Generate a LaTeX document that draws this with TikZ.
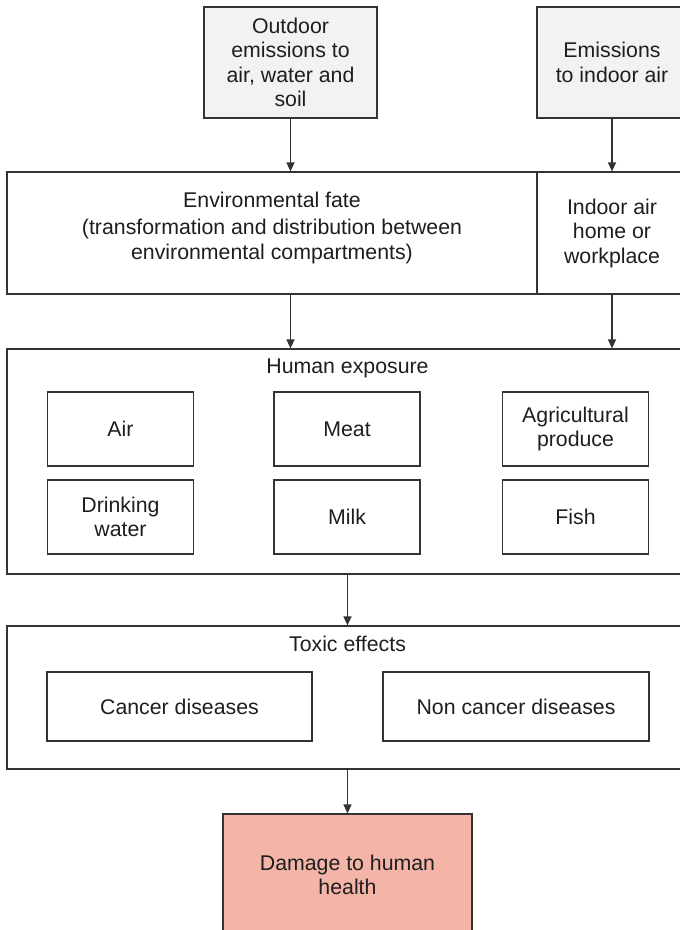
\documentclass[tikz,border=0pt]{standalone}
\usepackage{fontspec}
\setmainfont{Liberation Sans}
\usetikzlibrary{arrows.meta}
\definecolor{linec}{HTML}{333333}
\definecolor{txtc}{HTML}{1E1E1E}
\definecolor{grayfill}{HTML}{F2F2F2}
\definecolor{salmon}{HTML}{F4B4A7}
\tikzset{
  boxs/.style={draw=linec, line width=1.2pt, inner sep=0pt, align=center, text=txtc,
    font=\fontsize{21.3}{24.5}\selectfont},
  txts/.style={inner sep=0pt, align=center, text=txtc, font=\fontsize{21.3}{24.5}\selectfont},
  arr/.style={draw=linec, line width=1.2pt, -{Triangle[length=9pt,width=8pt]}}
}
\begin{document}
\begin{tikzpicture}[x=1pt,y=-1pt]
\useasboundingbox (0,0) rectangle (680,930);
% top sources
\node[boxs, fill=grayfill, minimum width=173pt, minimum height=111pt] (outdoor) at (290.5,62.5)
  {Outdoor\\emissions to\\air, water and\\soil};
\node[boxs, fill=grayfill, minimum width=150pt, minimum height=111pt] (emis) at (612,62.5)
  {Emissions\\to indoor air};
% environmental fate
\node[boxs, minimum width=530pt, minimum height=122pt] (fate) at (272,233) {};
\node[txts] (fatet) at (272,227.5) {Environmental fate\\[3pt](transformation and distribution between\\environmental compartments)};
\node[boxs, minimum width=150pt, minimum height=122pt] (indoor) at (612,233)
  {Indoor air\\home or\\workplace};
% human exposure
\node[boxs, minimum width=681pt, minimum height=225pt] (human) at (347.5,461.5) {};
\node[txts] (humant) at (347.5,368) {Human exposure};
\node[boxs, minimum width=146pt, minimum height=74pt] (air) at (120.5,429) {Air};
\node[boxs, minimum width=146pt, minimum height=74pt] (meat) at (347,429) {Meat};
\node[boxs, minimum width=146pt, minimum height=74pt] (agri) at (575.5,429) {Agricultural\\produce};
\node[boxs, minimum width=146pt, minimum height=74pt] (water) at (120.5,517) {Drinking\\water};
\node[boxs, minimum width=146pt, minimum height=74pt] (milk) at (347,517) {Milk};
\node[boxs, minimum width=146pt, minimum height=74pt] (fish) at (575.5,517) {Fish};
% toxic effects
\node[boxs, minimum width=681pt, minimum height=143pt] (toxic) at (347.5,697.5) {};
\node[txts] (toxict) at (347.5,644) {Toxic effects};
\node[boxs, minimum width=265pt, minimum height=69pt] (cancer) at (179.5,706.5) {Cancer diseases};
\node[boxs, minimum width=266pt, minimum height=69pt] (noncancer) at (516,706.5) {Non cancer diseases};
% damage
\node[boxs, fill=salmon, minimum width=249pt, minimum height=122pt] (damage) at (347.5,875)
  {Damage to human\\health};
% arrows
\draw[arr] (outdoor.south) -- (outdoor.south |- fate.north);
\draw[arr] (emis.south) -- (emis.south |- indoor.north);
\draw[arr] (outdoor.south |- fate.south) -- (outdoor.south |- human.north);
\draw[arr] (indoor.south) -- (indoor.south |- human.north);
\draw[arr] (human.south) -- (toxic.north);
\draw[arr] (toxic.south) -- (damage.north);
\end{tikzpicture}
\end{document}
